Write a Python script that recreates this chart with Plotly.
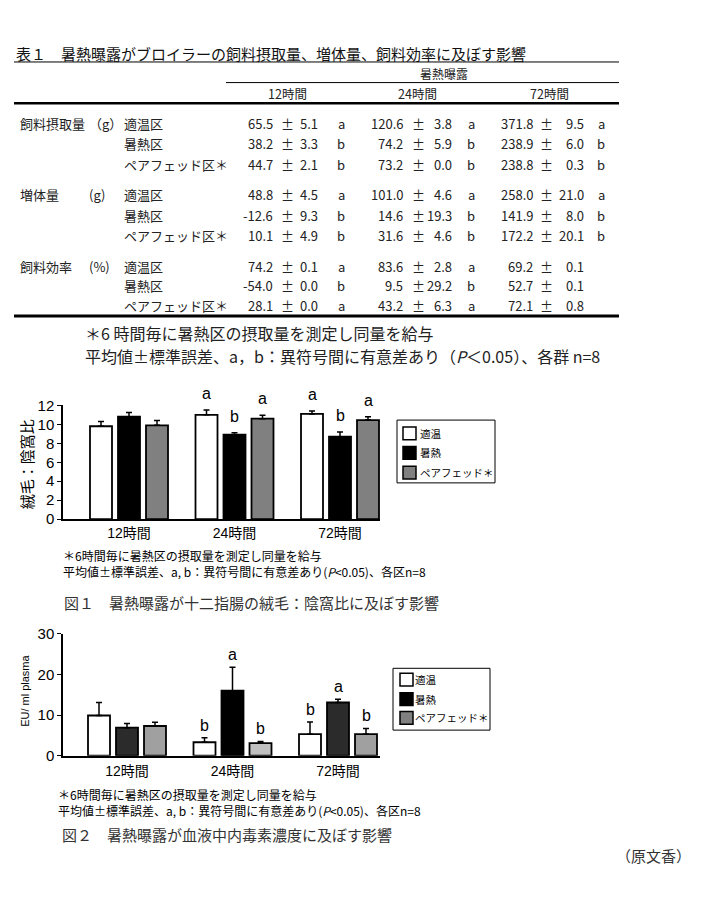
import plotly.graph_objects as go

W, H = 705, 900

# ---------------- data ----------------
times = ["12時間", "24時間", "72時間"]
table_groups = ["適温区", "暑熱区", "ペアフェッド区＊"]
measures = ["飼料摂取量", "増体量", "飼料効率"]
units = ["（g）", "(g)", "(%)"]

feed_mean = [[65.5, 120.6, 371.8], [38.2, 74.2, 238.9], [44.7, 73.2, 238.8]]
feed_se = [[5.1, 3.8, 9.5], [3.3, 5.9, 6.0], [2.1, 0.0, 0.3]]
feed_let = [["a", "a", "a"], ["b", "b", "b"], ["b", "b", "b"]]

gain_mean = [[48.8, 101.0, 258.0], [-12.6, 14.6, 141.9], [10.1, 31.6, 172.2]]
gain_se = [[4.5, 4.6, 21.0], [9.3, 19.3, 8.0], [4.9, 4.6, 20.1]]
gain_let = [["a", "a", "a"], ["b", "b", "b"], ["b", "b", "b"]]

eff_mean = [[74.2, 83.6, 69.2], [-54.0, 9.5, 52.7], [28.1, 43.2, 72.1]]
eff_se = [[0.1, 2.8, 0.1], [0.0, 29.2, 0.1], [0.0, 6.3, 0.8]]
eff_let = [["a", "a", ""], ["b", "b", ""], ["a", "a", ""]]

legend_labels = ["適温", "暑熱", "ペアフェッド＊"]

# Figure 1: villus : crypt ratio
vc_mean = [[9.8, 11.0, 11.1], [10.8, 8.9, 8.7], [9.9, 10.6, 10.45]]
vc_se = [[0.5, 0.5, 0.3], [0.45, 0.2, 0.5], [0.5, 0.35, 0.35]]
vc_let = [["", "a", "a"], ["", "b", "b"], ["", "a", "a"]]

# Figure 2: plasma endotoxin (EU/ml)
et_mean = [[9.9, 3.3, 5.3], [6.9, 16.0, 13.1], [7.3, 3.1, 5.3]]
et_se = [[3.2, 1.1, 3.0], [1.0, 5.8, 0.8], [0.9, 0.4, 1.4]]
et_let = [["", "b", "b"], ["", "a", "a"], ["", "b", "b"]]

# ---------------- helpers ----------------
def X(px):
    return px / W

def Y(py):
    return 1 - py / H

JP = "Noto Sans CJK JP"
AR = "Liberation Sans, Arial, Noto Sans CJK JP"
annots = []
shapes = []

def txt(x, y, s, size, anchor="left", family=JP, color="#222"):
    annots.append(dict(x=X(x), y=Y(y), xref="paper", yref="paper", text=s,
                       showarrow=False, xanchor=anchor, yanchor="middle",
                       align="left", font=dict(size=size, family=family, color=color)))

def hline(x0, x1, y, w):
    shapes.append(dict(type="line", xref="paper", yref="paper",
                       x0=X(x0), x1=X(x1), y0=Y(y), y1=Y(y),
                       line=dict(color="black", width=w)))

# ---------------- table ----------------
txt(14, 45, "表１　暑熱曝露がブロイラーの飼料摂取量、増体量、飼料効率に及ぼす影響", 15, color="#111")
hline(14, 619, 54, 1)
txt(418, 66, "暑熱曝露", 12)
hline(226, 619, 75, 1)
time_x = [287, 417, 549]
for t, tx in enumerate(times):
    txt(time_x[t], 86, tx, 12.5, anchor="center")
hline(14, 619, 96, 2.5)

mean_r = [275, 405, 535]
pm_x = [287, 418, 546]
se_r = [320, 454, 586]
let_x = [341, 471, 601]
row_y = [[117, 137, 158], [189, 210, 231], [262, 282, 302]]
blocks = [(feed_mean, feed_se, feed_let), (gain_mean, gain_se, gain_let), (eff_mean, eff_se, eff_let)]
for m, (mn, se, lt) in enumerate(blocks):
    txt(18, row_y[m][0], measures[m], 13)
    txt(87, row_y[m][0], units[m], 13)
    for g in range(3):
        yy = row_y[m][g]
        txt(122, yy, table_groups[g], 13)
        for t in range(3):
            txt(mean_r[t], yy, f"{mn[g][t]:.1f}", 13, anchor="right")
            txt(pm_x[t], yy, "±", 13, anchor="center")
            txt(se_r[t], yy, f"{se[g][t]:.1f}", 13, anchor="right")
            if lt[g][t]:
                txt(let_x[t], yy, lt[g][t], 13, anchor="center")
hline(14, 619, 313, 3)
txt(83, 330, "＊6 時間毎に暑熱区の摂取量を測定し同量を給与", 16)
txt(83, 354, "平均値±標準誤差、a，b：異符号間に有意差あり（<i>P</i>＜0.05）、各群 n=8", 16)

# ---------------- bar charts ----------------
fig = go.Figure()
pitch = 28 / 105.5
bw = 22 / 105.5
offs = [-pitch, 0, pitch]
idx = list(range(len(times)))

def add_chart(means, ses, lets, colors, xa, ya, lshift):
    for j in range(3):
        xs = [i + offs[j] for i in idx]
        fig.add_trace(go.Bar(
            x=xs, y=means[j], width=bw, xaxis=xa, yaxis=ya,
            marker=dict(color=colors[j], line=dict(color="black", width=1.8)),
            error_y=dict(type="data", symmetric=False, array=ses[j],
                         arrayminus=[0] * len(idx), color="black",
                         thickness=1.5, width=3),
            showlegend=False, name=legend_labels[j]))
        for i in idx:
            if lets[j][i]:
                annots.append(dict(x=xs[i], y=means[j][i] + ses[j][i],
                                   xref=xa, yref=ya, text=lets[j][i],
                                   showarrow=False, yanchor="bottom",
                                   yshift=lshift,
                                   font=dict(size=16, family=AR, color="black")))

add_chart(vc_mean, vc_se, vc_let, ["white", "black", "#808080"], "x", "y", 6)
add_chart(et_mean, et_se, et_let,
          ["white", ["#2b2b2b", "#000000", "#2b2b2b"], ["#a0a0a0", "#c0c0c0", "#a0a0a0"]],
          "x2", "y2", 2)

axis_common = dict(showgrid=False, zeroline=False, showline=True,
                   linecolor="black", linewidth=1.5)

c1, c2, sp = 129, 127, 105.5
fig.update_layout(
    xaxis=dict(domain=[X(63), X(380)], range=[(63 - c1) / sp, (380 - c1) / sp],
               tickvals=idx, ticktext=times, ticks="", anchor="y",
               tickfont=dict(size=14, family=AR, color="black"), **axis_common),
    yaxis=dict(domain=[Y(520), Y(404)], range=[0, 12], dtick=2, anchor="x",
               ticks="outside", ticklen=4, tickwidth=1, tickcolor="black",
               tickfont=dict(size=15, family=AR, color="black"), **axis_common),
    xaxis2=dict(domain=[X(63), X(380)], range=[(63 - c2) / sp, (380 - c2) / sp],
                tickvals=idx, ticktext=times, ticks="outside", ticklen=2,
                tickcolor="rgba(0,0,0,0)", anchor="y2",
                tickfont=dict(size=14, family=AR, color="black"), **axis_common),
    yaxis2=dict(domain=[Y(761), Y(637)], range=[0, 30], dtick=10, anchor="x2",
                ticks="outside", ticklen=4, tickwidth=1, tickcolor="black",
                tickfont=dict(size=15, family=AR, color="black"), **axis_common),
)

# y-axis titles
annots.append(dict(x=X(26), y=Y(464), xref="paper", yref="paper", text="絨毛：陰窩比",
                   textangle=-90, showarrow=False, xanchor="center", yanchor="middle",
                   font=dict(size=15, family=JP, color="black")))
annots.append(dict(x=X(25), y=Y(695), xref="paper", yref="paper", text="EU/ ml plasma",
                   textangle=-90, showarrow=False, xanchor="center", yanchor="middle",
                   font=dict(size=11, family=AR, color="black")))

# manual legends
def legend(x0, y0, x1, y1, sq_x, sq_tops, txt_x, fills):
    shapes.append(dict(type="rect", xref="paper", yref="paper", x0=X(x0), x1=X(x1),
                       y0=Y(y1), y1=Y(y0), line=dict(color="black", width=1)))
    for k, top in enumerate(sq_tops):
        shapes.append(dict(type="rect", xref="paper", yref="paper",
                           x0=X(sq_x), x1=X(sq_x + 13), y0=Y(top + 13), y1=Y(top),
                           fillcolor=fills[k], line=dict(color="black", width=1.5)))
        txt(txt_x, top + 6.5, legend_labels[k], 10.5, family=JP, color="black")

legend(397, 419, 495, 483, 403, [426, 446, 466], 418, ["white", "black", "#808080"])
legend(393, 672, 490, 735, 400, [677, 697, 716], 413, ["white", "black", "#808080"])

# figure notes / captions
txt(61, 565, "＊6時間毎に暑熱区の摂取量を測定し同量を給与<br>"
             "平均値±標準誤差、a, b：異符号間に有意差あり(<i>P</i>&lt;0.05)、各区n=8", 12, color="black")
txt(62, 605, "図１　暑熱曝露が十二指腸の絨毛：陰窩比に及ぼす影響", 15, color="#333")
txt(56, 809, "＊6時間毎に暑熱区の摂取量を測定し同量を給与<br>"
             "平均値±標準誤差、a, b：異符号間に有意差あり(<i>P</i>&lt;0.05)、各区n=8", 12, color="black")
txt(60, 841, "図２　暑熱曝露が血液中内毒素濃度に及ぼす影響", 15, color="#333")
txt(693, 863, "（原文香）", 15, anchor="right", color="#333")

fig.update_layout(width=W, height=H, margin=dict(l=0, r=0, t=0, b=0),
                  paper_bgcolor="white", plot_bgcolor="white",
                  annotations=annots, shapes=shapes, showlegend=False,
                  barmode="overlay")

fig.write_html("out.html")
